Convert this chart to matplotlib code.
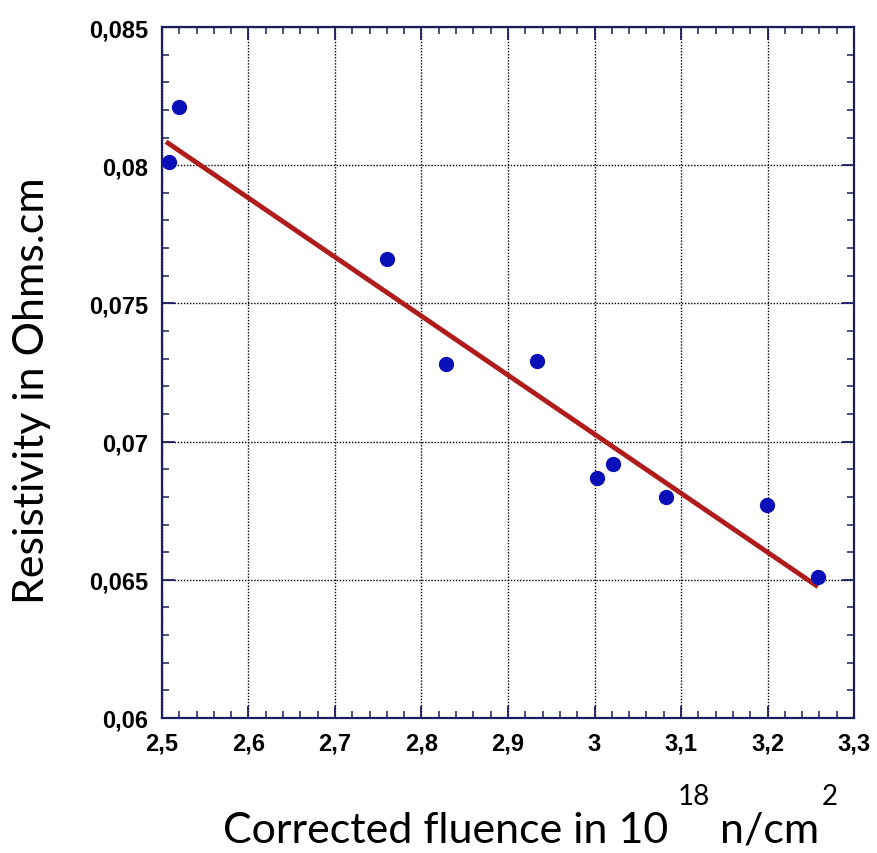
import matplotlib.pyplot as plt
from matplotlib.ticker import MultipleLocator, FuncFormatter

# --- data ---
fluence = [2.508, 2.520, 2.760, 2.828, 2.934, 3.003, 3.021, 3.083, 3.199, 3.258]
resistivity = [0.0801, 0.0821, 0.0766, 0.0728, 0.0729, 0.0687, 0.0692, 0.0680, 0.0677, 0.0651]
fit_x = [2.507, 3.256]
fit_y = [0.0808, 0.0648]

x_ticks = [2.5, 2.6, 2.7, 2.8, 2.9, 3.0, 3.1, 3.2, 3.3]
y_ticks = [0.06, 0.065, 0.07, 0.075, 0.08, 0.085]


def comma_fmt(v, pos):
    s = f"{v:.3f}".rstrip("0").rstrip(".")
    return s.replace(".", ",")


fig = plt.figure(figsize=(8.77, 8.54), dpi=100)
ax = fig.add_axes([0.1847, 0.1581, 0.7891, 0.8091])

ax.plot(fit_x, fit_y, color="#b01c1c", lw=3.5, zorder=3)
ax.plot(fluence, resistivity, "o", color="#0a10b8", ms=10, zorder=4)

ax.set_xlim(2.5, 3.3)
ax.set_ylim(0.06, 0.085)
ax.set_xticks(x_ticks)
ax.set_yticks(y_ticks)
ax.xaxis.set_minor_locator(MultipleLocator(0.02))
ax.yaxis.set_minor_locator(MultipleLocator(0.001))
ax.xaxis.set_major_formatter(FuncFormatter(comma_fmt))
ax.yaxis.set_major_formatter(FuncFormatter(comma_fmt))

navy = "#1c1c60"
for sp in ax.spines.values():
    sp.set_color(navy)
    sp.set_linewidth(1.6)
ax.tick_params(which="both", direction="in", top=True, right=True, color=navy)
ax.tick_params(which="major", length=9, width=1.3, pad=10)
ax.tick_params(which="minor", length=5, width=1.1)
for lab in ax.get_xticklabels() + ax.get_yticklabels():
    lab.set_fontfamily("Liberation Sans")
    lab.set_fontweight("bold")
    lab.set_fontsize(17)

ax.grid(True, which="major", color="black", linestyle=(0, (1, 1.2)), lw=1.0)

label_font = dict(family="Lato", fontsize=31, color="black")
fig.text(0.036, 1 - (610 + 172) / 2 / 854, "Resistivity in Ohms.cm",
         rotation=90, ha="center", va="center", **label_font)

# x label with separate superscripts
fig.text(223 / 877, 1 - 843 / 854, "Corrected fluence in 10", ha="left",
         va="baseline", **label_font)
fig.text(720 / 877, 1 - 843 / 854, "n/cm", ha="left", va="baseline", **label_font)
fig.text(678 / 877, 1 - 805 / 854, "18", ha="left", va="baseline",
         family="Lato", fontsize=20)
fig.text(822 / 877, 1 - 805 / 854, "2", ha="left", va="baseline",
         family="Lato", fontsize=20)

fig.savefig("out.png", dpi=100)
